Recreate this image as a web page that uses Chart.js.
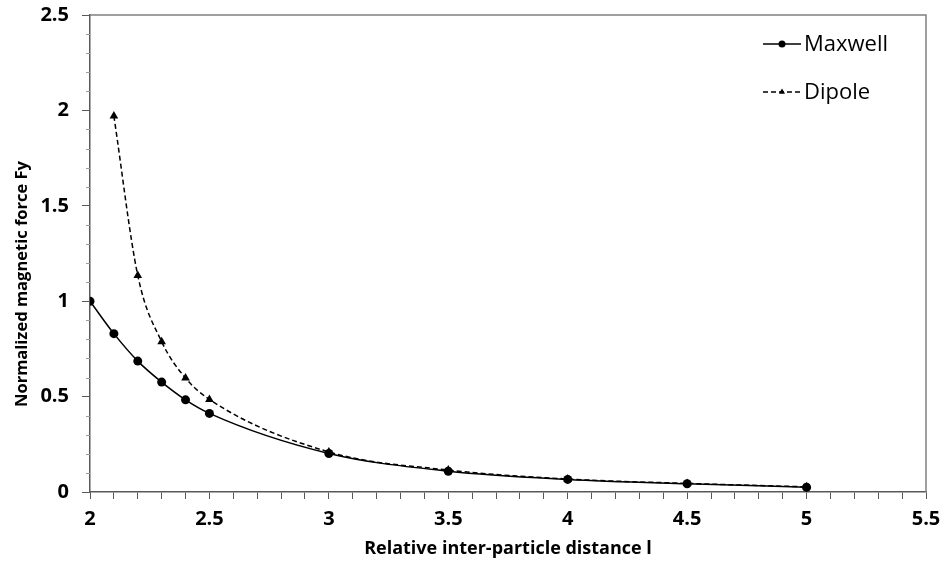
<!DOCTYPE html>
<html lang="en">
<head>
  <meta charset="UTF-8">
  <script src="https://cdn.jsdelivr.net/npm/chart.js@4.4.0/dist/chart.umd.min.js"></script>
  <title>Magnetic force</title>
</head>
<style>
*{
    margin: 0px;
    padding: 0px;
    box-sizing: border-box;
}
body{
    background: white;
}
#wrap{
    width: 942px;
    height: 563px;
}
</style>
<body>
    <div id="wrap">
        <canvas id="forceChart"></canvas>
    </div>
    <script>

// values
const distance = [2, 2.1, 2.2, 2.3, 2.4, 2.5, 3, 3.5, 4, 4.5, 5];
const maxwell = [1.0, 0.83, 0.686, 0.576, 0.483, 0.412, 0.202, 0.109, 0.066, 0.043, 0.025];
const dipoleDistance = [2.1, 2.2, 2.3, 2.4, 2.5, 3, 3.5, 4, 4.5, 5];
const dipole = [1.97, 1.135, 0.788, 0.597, 0.485, 0.21, 0.115, 0.068, 0.045, 0.027];
const xTickLabels = ["2", "2.5", "3", "3.5", "4", "4.5", "5", "5.5"];
const yTickLabels = ["0", "0.5", "1", "1.5", "2", "2.5"];
const yTitle = "Normalized magnetic force Fy";

const axisColor = "#595959";
const tickFont = {family: "Open Sans", size: 20, weight: "bold"};

function isHalf(v){
    return Math.abs(v * 2 - Math.round(v * 2)) < 1e-6;
}

// frame on top/right, minor ticks on y, y title (sits lower than centre) and the legend box
const extras = {
    id: "extras",
    beforeDatasetsDraw(chart){
        const ctx = chart.ctx;
        const a = chart.chartArea;
        const y = chart.scales.y;
        ctx.save();
        ctx.strokeStyle = "#808080";
        ctx.lineWidth = 1.5;
        ctx.beginPath();
        ctx.moveTo(a.left, a.top);
        ctx.lineTo(a.right, a.top);
        ctx.lineTo(a.right, a.bottom);
        ctx.stroke();
        ctx.strokeStyle = "#9a9a9a";
        ctx.lineWidth = 1;
        for(let i = 1; i < 25; i++){
            const v = i / 10;
            if(isHalf(v)) continue;
            const py = Math.round(y.getPixelForValue(v)) + 0.5;
            ctx.beginPath();
            ctx.moveTo(a.left - 4, py);
            ctx.lineTo(a.left, py);
            ctx.stroke();
        }
        // y title
        ctx.translate(22, 284);
        ctx.rotate(-Math.PI / 2);
        ctx.fillStyle = "#000";
        ctx.font = "bold 16.5px 'Open Sans'";
        ctx.textAlign = "center";
        ctx.textBaseline = "middle";
        ctx.fillText(yTitle, 0, 0);
        ctx.restore();
    },
    afterDraw(chart){
        const ctx = chart.ctx;
        const items = [
            {ds: chart.data.datasets[0], y: 44},
            {ds: chart.data.datasets[1], y: 92}
        ];
        ctx.save();
        items.forEach(it => {
            ctx.strokeStyle = "#000";
            ctx.lineWidth = 1.5;
            ctx.setLineDash(it.ds.borderDash || []);
            ctx.beginPath();
            ctx.moveTo(763, it.y);
            ctx.lineTo(801, it.y);
            ctx.stroke();
            ctx.setLineDash([]);
            ctx.fillStyle = "#000";
            Chart.helpers.drawPoint(ctx, {pointStyle: it.ds.pointStyle, radius: 3.5, borderWidth: 0}, 782, it.y);
            ctx.font = "22px 'Open Sans'";
            ctx.textBaseline = "middle";
            ctx.textAlign = "left";
            ctx.fillText(it.ds.label, 804, it.y + 1);
        });
        ctx.restore();
    }
};

const config = {
    type: "line",
    data: {
        datasets: [
            {
                label: "Maxwell",
                data: distance.map((d, i) => ({x: d, y: maxwell[i]})),
                borderColor: "#000",
                backgroundColor: "#000",
                borderWidth: 1.5,
                pointStyle: "circle",
                pointRadius: 4.5,
                pointBorderWidth: 0,
                cubicInterpolationMode: "monotone"
            },
            {
                label: "Dipole",
                data: dipoleDistance.map((d, i) => ({x: d, y: dipole[i]})),
                borderColor: "#000",
                backgroundColor: "#000",
                borderWidth: 1.5,
                borderDash: [5, 3],
                pointStyle: "triangle",
                pointRadius: 5,
                pointBorderWidth: 0,
                cubicInterpolationMode: "monotone"
            }
        ]
    },
    options: {
        responsive: true,
        maintainAspectRatio: false,
        animation: false,
        layout: {padding: {top: 15, right: 16, left: 0, bottom: 0}},
        plugins: {
            legend: {display: false},
            tooltip: {enabled: false}
        },
        scales: {
            x: {
                type: "linear",
                min: 2,
                max: 5.5,
                border: {color: axisColor, width: 1.5},
                grid: {drawOnChartArea: false, tickLength: 7, color: axisColor},
                ticks: {
                    stepSize: 0.1,
                    autoSkip: false,
                    maxRotation: 0,
                    padding: 8,
                    color: "#000",
                    font: tickFont,
                    callback: v => isHalf(v) ? xTickLabels[Math.round((v - 2) * 2)] : ""
                },
                title: {
                    display: true,
                    text: "Relative inter-particle distance l",
                    color: "#000",
                    font: {family: "Open Sans", size: 18, weight: "bold"},
                    padding: {top: 0, bottom: 3}
                },
                afterFit: s => {
                    s.height = 71;
                    s.paddingLeft = 0;
                    s.paddingRight = 0;
                }
            },
            y: {
                min: 0,
                max: 2.5,
                border: {color: axisColor, width: 1.5},
                grid: {drawOnChartArea: false, tickLength: 8, color: axisColor},
                ticks: {
                    stepSize: 0.5,
                    padding: 13,
                    color: "#000",
                    font: tickFont,
                    callback: v => yTickLabels[Math.round(v * 2)]
                },
                afterFit: s => {
                    s.width = 90;
                    s.paddingTop = 0;
                    s.paddingBottom = 0;
                }
            }
        }
    },
    plugins: [extras]
};

var forceChart = new Chart(document.getElementById("forceChart"), config);
    </script>
</body>
</html>
